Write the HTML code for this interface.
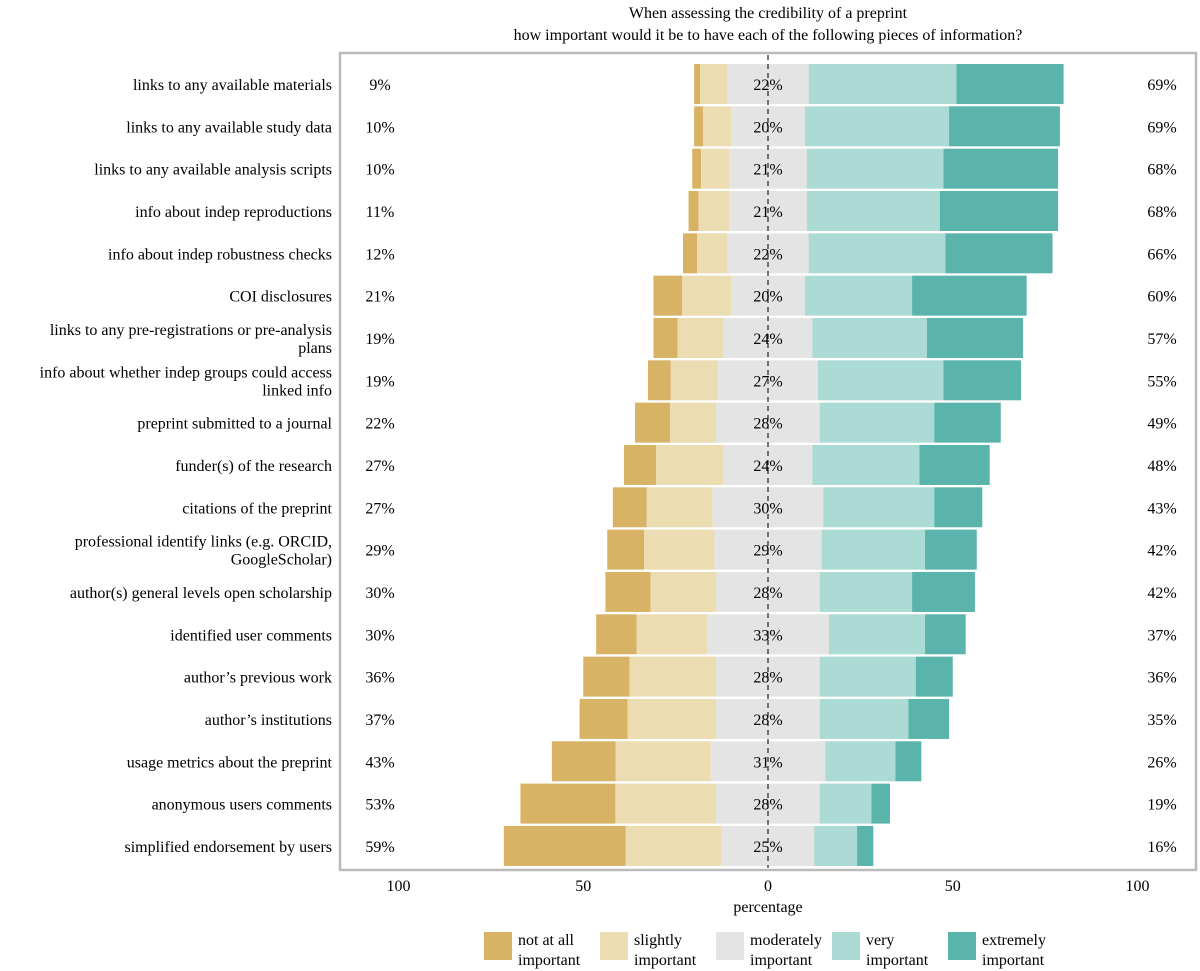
<!DOCTYPE html>
<html><head><meta charset="utf-8">
<style>
html,body{margin:0;padding:0;background:#fff;}
svg{display:block;font-family:"Liberation Serif",serif;}
</style></head>
<body>
<svg id="chart" width="1200" height="971" xmlns="http://www.w3.org/2000/svg">
<text x="768" y="18" text-anchor="middle" font-size="16">When assessing the credibility of a preprint</text>
<text x="768" y="40" text-anchor="middle" font-size="16">how important would it be to have each of the following pieces of information?</text>
<rect x="340" y="53" width="856" height="817" fill="none" stroke="#bbb" stroke-width="2.5"/>
<g id="bars"></g>
<g id="labels"></g>
<line x1="768" x2="768" y1="55" y2="868" stroke="#222" stroke-width="1.2" stroke-dasharray="5,4"/>
<g id="ticks"></g>
<text x="768" y="912" text-anchor="middle" font-size="16">percentage</text>
<g id="legend"></g>
</svg>
<script>
const categories=["links to any available materials","links to any available study data","links to any available analysis scripts","info about indep reproductions","info about indep robustness checks","COI disclosures","links to any pre-registrations or pre-analysis|plans","info about whether indep groups could access|linked info","preprint submitted to a journal","funder(s) of the research","citations of the preprint","professional identify links (e.g. ORCID,|GoogleScholar)","author(s) general levels open scholarship","identified user comments","author’s previous work","author’s institutions","usage metrics about the preprint","anonymous users comments","simplified endorsement by users"];
const notAtAll=[1.6,2.4,2.4,2.7,3.8,7.8,6.5,6.2,9.5,8.7,9.2,10,12.2,11,12.5,13,17.3,25.7,33];
const slightly=[7.4,7.6,7.6,8.3,8.2,13.2,12.5,12.8,12.5,18.3,17.8,19,17.8,19,23.5,24,25.7,27.3,26];
const moderately=[22,20,21,21,22,20,24,27,28,24,30,29,28,33,28,28,31,28,25];
const very=[40,39,37,36,37,29,31,34,31,29,30,28,25,26,26,24,19,14,11.6];
const extremely=[29,30,31,32,29,31,26,21,18,19,13,14,17,11,10,11,7,5,4.4];
const lowPct=["9%","10%","10%","11%","12%","21%","19%","19%","22%","27%","27%","29%","30%","30%","36%","37%","43%","53%","59%"];
const midPct=["22%","20%","21%","21%","22%","20%","24%","27%","28%","24%","30%","29%","28%","33%","28%","28%","31%","28%","25%"];
const highPct=["69%","69%","68%","68%","66%","60%","57%","55%","49%","48%","43%","42%","42%","37%","36%","35%","26%","19%","16%"];
const tickValues=[-100,-50,0,50,100];
const tickLabels=["100","50","0","50","100"];
const legendLabels=["not at all|important","slightly|important","moderately|important","very|important","extremely|important"];
const colors=["#d8b366","#ecdcb2","#e4e4e4","#acdad5","#5ab4ab"];
const NS="http://www.w3.org/2000/svg";
const x=v=>768+v*3.695;
const y=i=>84+i*42.33;
const bh=40;
function mk(tag,attrs,parent){const e=document.createElementNS(NS,tag);for(const k in attrs)e.setAttribute(k,attrs[k]);parent.appendChild(e);return e;}
const gb=document.getElementById('bars'),gl=document.getElementById('labels');
const series=[notAtAll,slightly,moderately,very,extremely];
const sNames=["not-at-all","slightly","moderately","very","extremely"];
categories.forEach((c,i)=>{
  let start=-(notAtAll[i]+slightly[i]+moderately[i]/2);
  series.forEach((s,k)=>{
    const r=mk('rect',{x:x(start),y:y(i)-bh/2,width:s[i]*3.695,height:bh,fill:colors[k]},gb);
    
    
    start+=s[i];
  });
  const lines=c.split('|');
  const t=mk('text',{x:332,'text-anchor':'end','font-size':16},gl);
  
  
  lines.forEach((ln,j)=>{const ts=mk('tspan',{x:332,y:y(i)+6+(j-(lines.length-1)/2)*18},t);ts.textContent=ln;});
  const a=mk('text',{x:380,y:y(i)+6,'text-anchor':'middle','font-size':16},gl);a.textContent=lowPct[i];
  
  
  const b=mk('text',{x:768,y:y(i)+6,'text-anchor':'middle','font-size':16},gl);b.textContent=midPct[i];
  
  
  const d=mk('text',{x:1162,y:y(i)+6,'text-anchor':'middle','font-size':16},gl);d.textContent=highPct[i];
  
  
});
const gt=document.getElementById('ticks');
tickValues.forEach((v,i)=>{
  const t=mk('text',{x:x(v),y:891,'text-anchor':'middle','font-size':16},gt);t.textContent=tickLabels[i];
  
  
});
const gleg=document.getElementById('legend');
const lx=[484,600,716,832,948];
legendLabels.forEach((l,k)=>{
  const r=mk('rect',{x:lx[k],y:932,width:28,height:28,fill:colors[k]},gleg);
  
  
  const t=mk('text',{'font-size':16},gleg);
  
  
  l.split('|').forEach((ln,j)=>{const ts=mk('tspan',{x:lx[k]+34,y:945+j*20},t);ts.textContent=ln;});
});
</script>
</body></html>
